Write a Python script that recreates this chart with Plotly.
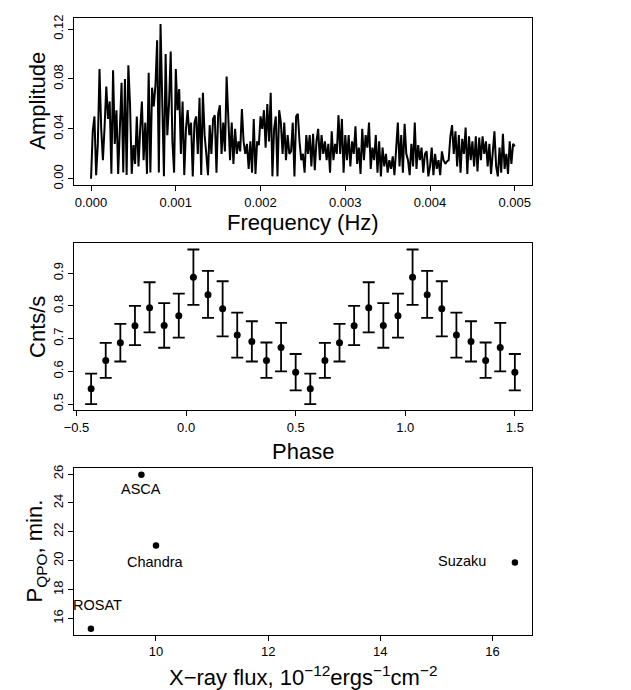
import plotly.graph_objects as go

# ---------------- data ----------------
freq_step = 0.00002
amplitude = [
    0.000, 0.038, 0.050, 0.003, 0.028, 0.088, 0.040, 0.015, 0.042, 0.074,
    0.048, 0.062, 0.004, 0.087, 0.028, 0.055, 0.004, 0.042, 0.077, 0.005,
    0.080, 0.003, 0.091, 0.060, 0.004, 0.027, 0.012, 0.050, 0.010, 0.040,
    0.062, 0.015, 0.045, 0.004, 0.085, 0.005, 0.073, 0.058, 0.075, 0.111,
    0.005, 0.124, 0.060, 0.002, 0.100, 0.035, 0.060, 0.102, 0.030, 0.005,
    0.088, 0.055, 0.072, 0.020, 0.062, 0.003, 0.040, 0.055, 0.035, 0.045,
    0.002, 0.045, 0.050, 0.020, 0.065, 0.003, 0.069, 0.035, 0.020, 0.003,
    0.043, 0.020, 0.048, 0.051, 0.005, 0.052, 0.059, 0.020, 0.045, 0.022,
    0.082, 0.040, 0.015, 0.045, 0.012, 0.040, 0.020, 0.030, 0.022, 0.056,
    0.030, 0.020, 0.028, 0.008, 0.030, 0.005, 0.048, 0.004, 0.030, 0.027,
    0.050, 0.040, 0.055, 0.025, 0.060, 0.030, 0.069, 0.002, 0.040, 0.050,
    0.002, 0.055, 0.045, 0.020, 0.045, 0.015, 0.035, 0.020, 0.022, 0.045,
    0.002, 0.050, 0.052, 0.030, 0.015, 0.020, 0.005, 0.035, 0.020, 0.035,
    0.010, 0.036, 0.007, 0.030, 0.040, 0.015, 0.035, 0.020, 0.030, 0.015,
    0.028, 0.005, 0.038, 0.015, 0.028, 0.020, 0.051, 0.020, 0.048, 0.005,
    0.035, 0.015, 0.035, 0.010, 0.030, 0.020, 0.042, 0.012, 0.025, 0.004,
    0.040, 0.015, 0.035, 0.025, 0.045, 0.008, 0.025, 0.015, 0.035, 0.005,
    0.030, 0.002, 0.025, 0.010, 0.020, 0.005, 0.015, 0.008, 0.018, 0.003,
    0.025, 0.045, 0.010, 0.035, 0.005, 0.044, 0.020, 0.015, 0.003, 0.028,
    0.010, 0.045, 0.008, 0.027, 0.015, 0.025, 0.005, 0.020, 0.022, 0.002,
    0.010, 0.025, 0.003, 0.020, 0.008, 0.015, 0.003, 0.022, 0.015, 0.012,
    0.014, 0.015, 0.034, 0.043, 0.020, 0.038, 0.010, 0.035, 0.005, 0.032,
    0.020, 0.041, 0.004, 0.034, 0.015, 0.030, 0.010, 0.034, 0.006, 0.033,
    0.015, 0.034, 0.020, 0.030, 0.010, 0.028, 0.004, 0.025, 0.038, 0.010,
    0.002, 0.025, 0.005, 0.036, 0.008, 0.020, 0.004, 0.030, 0.012, 0.028,
    0.026,
]
frequency = [i * freq_step for i in range(len(amplitude))]

phase = [-0.4333, -0.3667, -0.3, -0.2333, -0.1667, -0.1, -0.0333, 0.0333,
         0.1, 0.1667, 0.2333, 0.3, 0.3667, 0.4333, 0.5,
         0.5667, 0.6333, 0.7, 0.7667, 0.8333, 0.9, 0.9667, 1.0333,
         1.1, 1.1667, 1.2333, 1.3, 1.3667, 1.4333, 1.5]
rate_cycle = [0.547, 0.633, 0.687, 0.739, 0.794, 0.740, 0.770, 0.887,
              0.834, 0.791, 0.711, 0.691, 0.633, 0.673, 0.597]
rate_hi_cycle = [0.593, 0.687, 0.745, 0.800, 0.872, 0.808, 0.837, 0.972,
                 0.907, 0.875, 0.779, 0.753, 0.688, 0.748, 0.653]
rate_lo_cycle = [0.500, 0.580, 0.630, 0.680, 0.719, 0.672, 0.703, 0.803,
                 0.763, 0.707, 0.642, 0.630, 0.580, 0.600, 0.542]
rate = rate_cycle * 2
rate_hi = rate_hi_cycle * 2
rate_lo = rate_lo_cycle * 2

missions = ["ROSAT", "ASCA", "Chandra", "Suzaku"]
xray_flux = [8.84, 9.74, 10.0, 16.40]
p_qpo = [15.29, 25.95, 21.05, 19.88]

f_ticks = [0.000, 0.001, 0.002, 0.003, 0.004, 0.005]
f_ticklabels = ["0.000", "0.001", "0.002", "0.003", "0.004", "0.005"]
amp_ticks = [0.00, 0.04, 0.08, 0.12]
amp_ticklabels = ["0.00", "0.04", "0.08", "0.12"]
phase_ticks = [-0.5, 0.0, 0.5, 1.0, 1.5]
phase_ticklabels = ["\u22120.5", "0.0", "0.5", "1.0", "1.5"]
rate_ticks = [0.5, 0.6, 0.7, 0.8, 0.9]
rate_ticklabels = ["0.5", "0.6", "0.7", "0.8", "0.9"]
flux_ticks = [10, 12, 14, 16]
flux_ticklabels = ["10", "12", "14", "16"]
p_ticks = [16, 18, 20, 22, 24, 26]
p_ticklabels = ["16", "18", "20", "22", "24", "26"]

# ---------------- figure ----------------
W, H = 631, 690
FONT = "Liberation Sans, Arial, Helvetica, sans-serif"
TICKFONT = dict(family=FONT, size=13, color="black")

fig = go.Figure()

fig.add_trace(go.Scatter(x=frequency, y=amplitude, mode="lines",
                         line=dict(color="black", width=2),
                         xaxis="x", yaxis="y", showlegend=False))

fig.add_trace(go.Scatter(
    x=phase, y=rate, mode="markers",
    marker=dict(color="black", size=7),
    error_y=dict(type="data", symmetric=False,
                 array=[h - r for h, r in zip(rate_hi, rate)],
                 arrayminus=[r - l for r, l in zip(rate, rate_lo)],
                 color="black", thickness=1.8, width=6),
    xaxis="x2", yaxis="y2", showlegend=False))

fig.add_trace(go.Scatter(x=xray_flux, y=p_qpo, mode="markers",
                         marker=dict(color="black", size=6.5),
                         xaxis="x3", yaxis="y3", showlegend=False))


def px_x(p):
    return p / W


def px_y(p):
    return 1 - p / H


def axis_common():
    return dict(showline=True, mirror=True, linecolor="black", linewidth=1.3,
                ticks="outside", ticklen=5, tickwidth=1, tickcolor="black",
                showgrid=False, zeroline=False, tickfont=TICKFONT,
                tickmode="array")


dom_x = [px_x(57), px_x(522)]
layout = dict(
    width=W, height=H,
    margin=dict(l=0, r=0, t=0, b=0),
    paper_bgcolor="white", plot_bgcolor="white",
    font=dict(family=FONT, color="black"),
    xaxis=dict(**axis_common(), domain=dom_x, anchor="y",
               range=[-0.0002, 0.0052], tickvals=f_ticks, ticktext=f_ticklabels),
    yaxis=dict(**axis_common(), domain=[px_y(176), px_y(7)], anchor="x",
               range=[-0.0049, 0.1289], tickvals=amp_ticks,
               ticktext=amp_ticklabels, tickangle=-90),
    xaxis2=dict(**axis_common(), domain=dom_x, anchor="y2",
                range=[-0.511, 1.577], tickvals=phase_ticks,
                ticktext=phase_ticklabels),
    yaxis2=dict(**axis_common(), domain=[px_y(404), px_y(235)], anchor="x2",
                range=[0.481, 0.991], tickvals=rate_ticks,
                ticktext=rate_ticklabels, tickangle=-90),
    xaxis3=dict(**axis_common(), domain=dom_x, anchor="y3",
                range=[8.54, 16.70], tickvals=flux_ticks,
                ticktext=flux_ticklabels),
    yaxis3=dict(**axis_common(), domain=[px_y(631), px_y(462)], anchor="x3",
                range=[14.88, 26.44], tickvals=p_ticks,
                ticktext=p_ticklabels, tickangle=-90),
)
fig.update_layout(**layout)

TITLE = dict(family=FONT, size=22, color="black")
titles = [
    ("Amplitude", 20, 91, -90),
    ("Frequency (Hz)", 290, 214, 0),
    ("Cnts/s", 20, 320, -90),
    ("Phase", 290, 446, 0),
    ("P<sub>QPO</sub>, min.", 18, 546, -90),
    ("X\u2212ray flux, 10<sup>\u221212</sup>ergs<sup>\u22121</sup>cm<sup>\u22122</sup>",
     290, 673, 0),
]
for text, cx, cy, ang in titles:
    fig.add_annotation(text=text, xref="paper", yref="paper",
                       x=px_x(cx), y=px_y(cy), xanchor="center",
                       yanchor="middle", showarrow=False, textangle=ang,
                       font=TITLE)

LABEL = dict(family=FONT, size=14.5, color="black")
label_offsets = {
    "ROSAT": dict(xshift=7, yshift=24, xanchor="center"),
    "ASCA": dict(xshift=0, yshift=-14, xanchor="center"),
    "Chandra": dict(xshift=0, yshift=-16, xanchor="center"),
    "Suzaku": dict(xshift=-27, yshift=1, xanchor="right"),
}
for name, fx, py in zip(missions, xray_flux, p_qpo):
    fig.add_annotation(text=name, x=fx, y=py, xref="x3", yref="y3",
                       showarrow=False, yanchor="middle", font=LABEL,
                       **label_offsets[name])

fig.write_html("out.html")
